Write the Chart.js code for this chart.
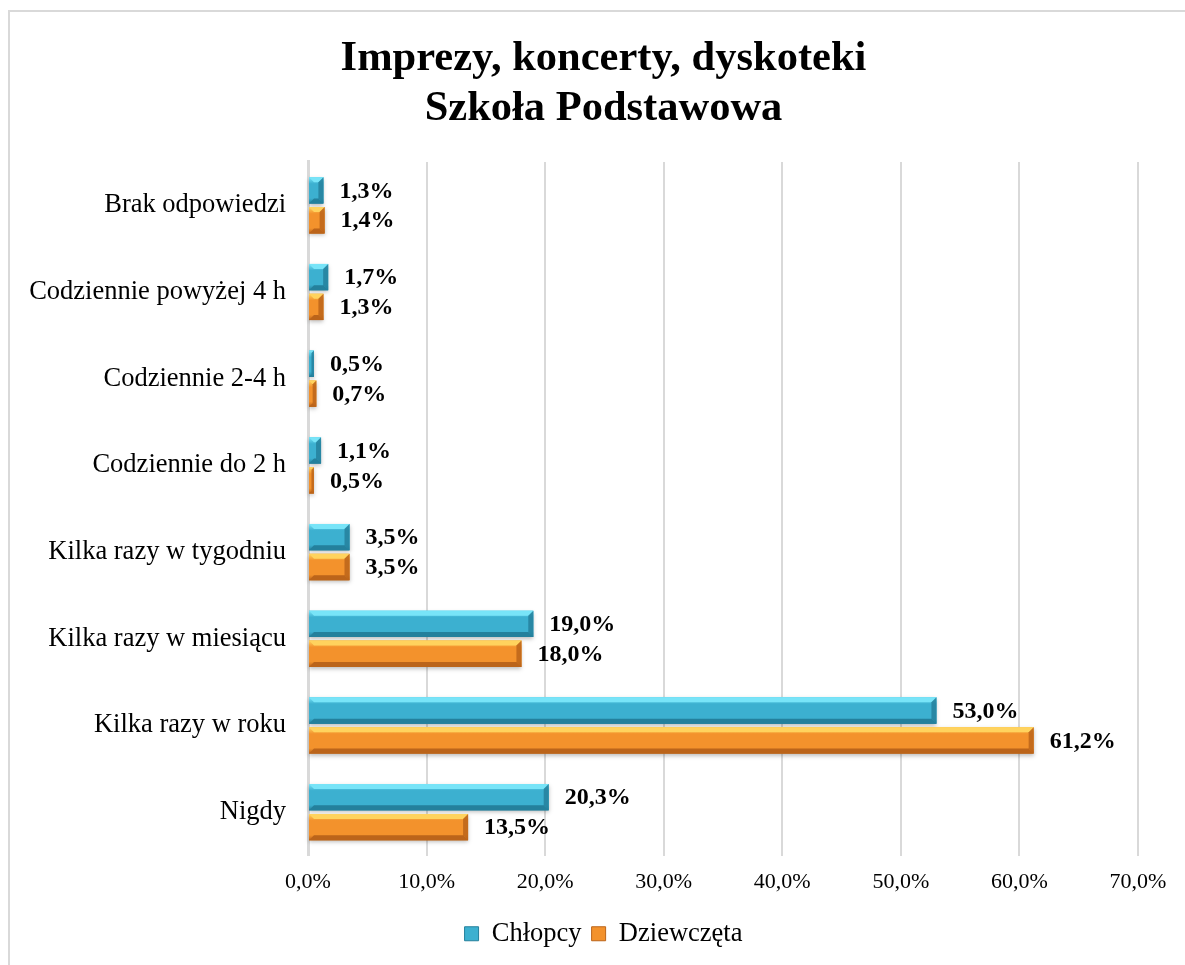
<!DOCTYPE html>
<html>
<head>
<meta charset="utf-8">
<script src="https://cdn.jsdelivr.net/npm/chart.js@4"></script>
<style>
  html, body { margin: 0; padding: 0; background: #fff; }
  #frame { position: absolute; left: 8px; top: 10px; width: 1200px; height: 1000px; border: 2px solid #d9d9d9; box-sizing: border-box; }
  #wrap { position: absolute; left: 0; top: 0; width: 1185px; height: 965px; }
</style>
</head>
<body>
<div id="frame"></div>
<div id="wrap"><canvas id="grafico"></canvas></div>
<script>
const ctx = document.getElementById('grafico');

const categories = [
    'Brak odpowiedzi',
    'Codziennie powyżej 4 h',
    'Codziennie 2-4 h',
    'Codziennie do 2 h',
    'Kilka razy w tygodniu',
    'Kilka razy w miesiącu',
    'Kilka razy w roku',
    'Nigdy'
]
const chlopcy = [1.3, 1.7, 0.5, 1.1, 3.5, 19.0, 53.0, 20.3]
const dziewczeta = [1.4, 1.3, 0.7, 0.5, 3.5, 18.0, 61.2, 13.5]
const xTicks = [0, 10, 20, 30, 40, 50, 60, 70]

const serif = "'Liberation Serif', 'Times New Roman', serif"
const fmt = v => v.toFixed(1).replace('.', ',') + '%'

// kolory: [srodek, gora (jasny), dol (ciemny)]
const shades = [
    ['#3cb0d0', '#78e4f8', '#24809c'],
    ['#f3922c', '#ffd35e', '#bb641a']
]

// efekt "3D" slupkow jak w Excelu
const bevel = {
    id: 'bevel',
    afterDatasetsDraw(chart) {
        const c = chart.ctx
        chart.data.datasets.forEach((ds, di) => {
            const meta = chart.getDatasetMeta(di)
            const [mid, light, dark] = shades[di]
            meta.data.forEach(bar => {
                const x0 = bar.base, x1 = bar.x
                const y0 = bar.y - bar.height / 2, y1 = bar.y + bar.height / 2
                const w = x1 - x0, h = y1 - y0
                if (w <= 0) return
                const d = Math.min(5, w / 2, h / 4)
                c.save()
                const g = c.createLinearGradient(0, y0, 0, y1)
                g.addColorStop(0, light)
                g.addColorStop(0.25, mid)
                g.addColorStop(0.8, mid)
                g.addColorStop(1, dark)
                c.fillStyle = g
                c.shadowColor = 'rgba(0,0,0,0.25)'
                c.shadowBlur = 4
                c.shadowOffsetY = 2
                c.fillRect(x0, y0, w, h)
                c.shadowColor = 'transparent'
                // gorna krawedz
                c.fillStyle = light
                c.beginPath()
                c.moveTo(x0, y0); c.lineTo(x1, y0); c.lineTo(x1 - d, y0 + d); c.lineTo(x0 + d, y0 + d)
                c.closePath(); c.fill()
                // dolna krawedz
                c.fillStyle = dark
                c.beginPath()
                c.moveTo(x0, y1); c.lineTo(x1, y1); c.lineTo(x1 - d, y1 - d); c.lineTo(x0 + d, y1 - d)
                c.closePath(); c.fill()
                // prawa krawedz
                c.globalAlpha = 0.85
                c.beginPath()
                c.moveTo(x1, y0); c.lineTo(x1, y1); c.lineTo(x1 - d, y1 - d); c.lineTo(x1 - d, y0 + d)
                c.closePath(); c.fill()
                c.restore()
            })
        })
    }
}

// etykiety wartosci
const valueLabels = {
    id: 'valueLabels',
    afterDatasetsDraw(chart) {
        const c = chart.ctx
        c.save()
        c.font = 'bold 24px ' + serif
        c.fillStyle = '#000'
        c.textBaseline = 'middle'
        c.textAlign = 'left'
        chart.data.datasets.forEach((ds, di) => {
            chart.getDatasetMeta(di).data.forEach((bar, i) => {
                c.fillText(fmt(ds.data[i]), bar.x + 16, bar.y + 1)
            })
        })
        c.restore()
    }
}

new Chart(ctx, {
    type: 'bar',
    data: {
        labels: categories,
        datasets: [{
            label: 'Chłopcy',
            data: chlopcy,
            backgroundColor: shades[0][0],
            borderWidth: 0
        }, {
            label: 'Dziewczęta',
            data: dziewczeta,
            backgroundColor: shades[1][0],
            borderWidth: 0
        }]
    },
    options: {
        indexAxis: 'y',
        responsive: true,
        maintainAspectRatio: false,
        animation: false,
        layout: { padding: { top: 34, bottom: 8, left: 22, right: 0 } },
        datasets: {
            bar: { categoryPercentage: 0.69, barPercentage: 0.88 }
        },
        scales: {
            x: {
                min: 0,
                max: 70,
                afterBuildTicks: s => { s.ticks = xTicks.map(v => ({ value: v })) },
                afterFit: s => { s.height = 55; s.paddingRight = 47 },
                grid: { color: '#d9d9d9', lineWidth: 2, drawTicks: false },
                border: { display: false },
                ticks: {
                    padding: 14,
                    color: '#000',
                    font: { family: serif, size: 22 },
                    callback: v => fmt(v)
                }
            },
            y: {
                afterFit: s => { s.width = 286 },
                grid: { display: false, drawTicks: false },
                border: { display: true, color: '#d9d9d9', width: 3 },
                ticks: {
                    padding: 22,
                    color: '#000',
                    font: { family: serif, size: 26.5 }
                }
            }
        },
        plugins: {
            title: {
                display: true,
                text: ['Imprezy, koncerty, dyskoteki', 'Szkoła Podstawowa'],
                color: '#000',
                font: { family: serif, size: 42.5, weight: 'bold', lineHeight: 1.176 },
                padding: { top: 0, bottom: 28 }
            },
            legend: {
                position: 'bottom',
                labels: {
                    color: '#000',
                    font: { family: serif, size: 26.5 },
                    boxWidth: 14,
                    boxHeight: 14,
                    padding: 10,
                    generateLabels: chart => chart.data.datasets.map((ds, i) => ({
                        text: ds.label,
                        fillStyle: shades[i][0],
                        strokeStyle: shades[i][2],
                        lineWidth: 1,
                        datasetIndex: i
                    }))
                }
            },
            tooltip: { enabled: false }
        }
    },
    plugins: [bevel, valueLabels]
});
</script>
</body>
</html>
